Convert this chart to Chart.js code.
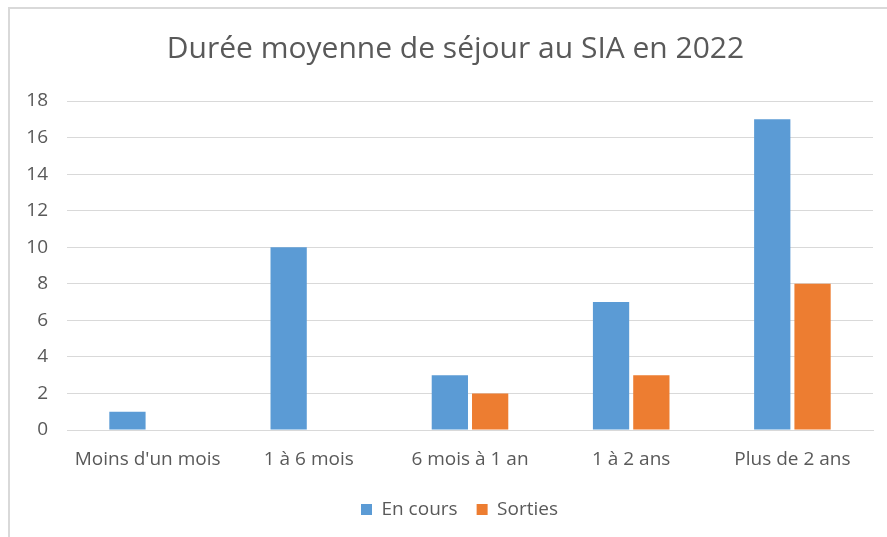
<!DOCTYPE html>
<html>
<head>
<meta charset="UTF-8">
<title>Durée moyenne de séjour au SIA en 2022</title>
<script src="https://cdn.jsdelivr.net/npm/chart.js@4/dist/chart.umd.min.js"></script>
<style>
  html, body { margin: 0; padding: 0; background: #fff; overflow: hidden; }
  .chartBox {
    position: absolute;
    left: 8px;
    top: 7px;
    width: 879px;
    height: 530px;
    border-left: 2px solid #d9d9d9;
    border-top: 2px solid #d9d9d9;
  }
</style>
</head>
<body>

<div class="chartBox">
  <canvas id="myChart" width="877" height="528"></canvas>
</div>

<script>
const categories = ["Moins d'un mois", '1 à 6 mois', '6 mois à 1 an', '1 à 2 ans', 'Plus de 2 ans'];
const enCours = [1, 10, 3, 7, 17];
const sorties = [null, null, 2, 3, 8];
const yTicks = [0, 2, 4, 6, 8, 10, 12, 14, 16, 18];

const textColor = '#595959';
const font = 'Open Sans';

// title and legend sit a little to the right of the canvas centre
const shiftBlocks = {
    id: 'shiftBlocks',
    afterLayout(chart) {
        const t = chart.titleBlock;
        if (t) { t.left += 9; t.right += 9; }
        const l = chart.legend;
        if (l) { l.left += 13; l.right += 13; }
    }
};

const ctx = document.getElementById('myChart').getContext('2d');
const myChart = new Chart(ctx, {
    type: 'bar',
    data: {
        labels: categories,
        datasets: [{
            label: 'En cours',
            data: enCours,
            backgroundColor: '#5b9bd5',
            categoryPercentage: 0.5,
            barPercentage: 0.9
        }, {
            label: 'Sorties',
            data: sorties,
            backgroundColor: '#ed7d31',
            categoryPercentage: 0.5,
            barPercentage: 0.9
        }]
    },
    plugins: [shiftBlocks],
    options: {
        responsive: false,
        animation: false,
        layout: {
            padding: { left: 10, right: 14, top: 0, bottom: 8 }
        },
        scales: {
            x: {
                grid: { display: false, drawTicks: false },
                border: { color: '#d9d9d9' },
                ticks: {
                    color: textColor,
                    font: { family: font, size: 19 },
                    padding: 18,
                    maxRotation: 0
                },
                afterFit: (s) => { s.height = 51; }
            },
            y: {
                min: 0,
                max: 18,
                afterBuildTicks: (s) => { s.ticks = yTicks.map(v => ({ value: v })); },
                grid: { color: '#d9d9d9', drawTicks: false },
                border: { display: false },
                ticks: {
                    color: textColor,
                    font: { family: font, size: 19 },
                    padding: 19
                },
                afterFit: (s) => { s.width = 47; }
            }
        },
        plugins: {
            title: {
                display: true,
                text: 'Durée moyenne de séjour au SIA en 2022',
                color: textColor,
                font: { family: font, size: 30, weight: 'normal' },
                padding: { top: 22, bottom: 34 }
            },
            legend: {
                position: 'bottom',
                labels: {
                    color: textColor,
                    font: { family: font, size: 19 },
                    boxWidth: 11,
                    boxHeight: 11,
                    padding: 19
                }
            },
            tooltip: { enabled: false }
        }
    }
});
</script>

</body>
</html>
